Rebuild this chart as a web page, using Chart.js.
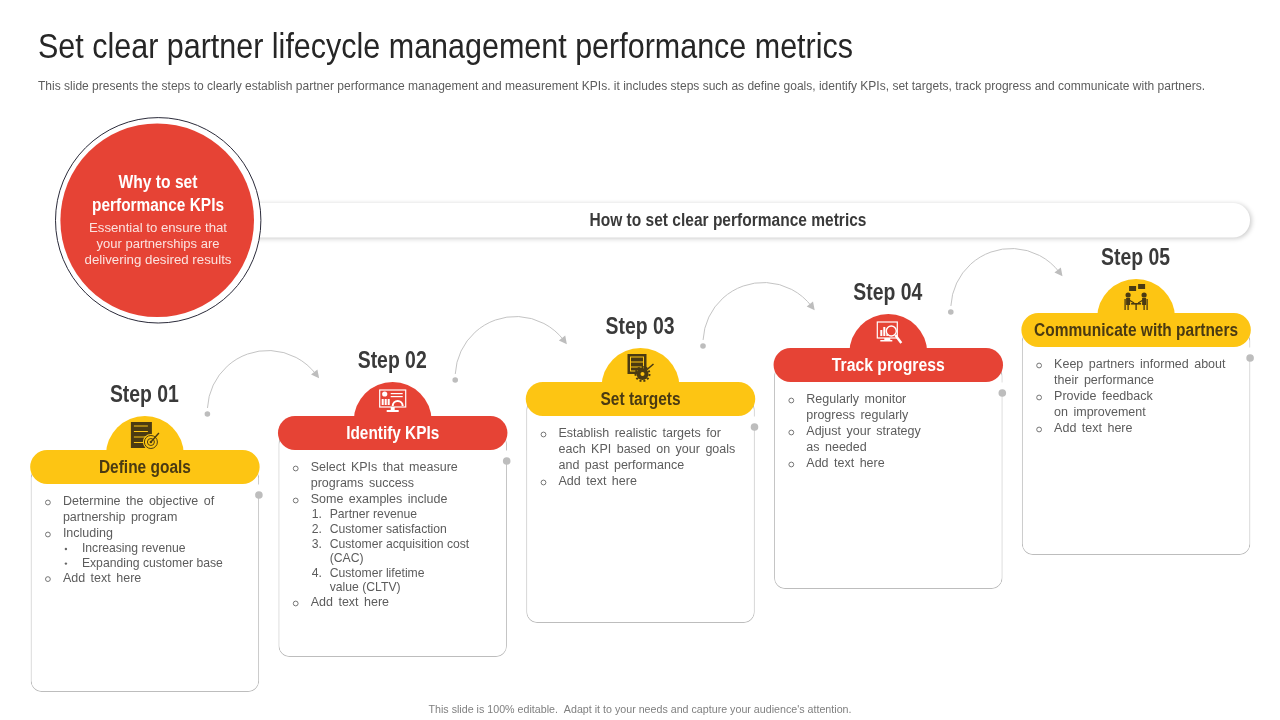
<!DOCTYPE html>
<html>
<head>
<title>Set clear partner lifecycle management performance metrics</title>
<script src="https://cdn.jsdelivr.net/npm/chart.js@4"></script>
<style>
  body { margin: 0; background: #fff; }
  canvas { display: block; }
</style>
</head>
<body>
<canvas id="myChart" width="1280" height="720"></canvas>

<script>
const steps = ['Step 01', 'Step 02', 'Step 03', 'Step 04', 'Step 05'];
const stepNames = ['Define goals', 'Identify KPIs', 'Set targets', 'Track progress', 'Communicate with partners'];
const pillTop = [450, 416, 382, 348, 313];
const pillBottom = [484, 450, 416, 382, 347];
const cardBottom = [692, 657, 623, 589, 555];

// o = round bullet, c = continuation, d = dot bullet, s = sub continuation, 1. etc = numbered
const card1 = [
  ['o', 'Determine the objective of'], ['c', 'partnership program'], ['o', 'Including'],
  ['d', 'Increasing revenue'], ['d', 'Expanding customer base'], ['o', 'Add text here']
];
const card2 = [
  ['o', 'Select KPIs that measure'], ['c', 'programs success'], ['o', 'Some examples include'],
  ['1.', 'Partner revenue'], ['2.', 'Customer satisfaction'], ['3.', 'Customer acquisition cost'],
  ['s', '(CAC)'], ['4.', 'Customer lifetime'], ['s', 'value (CLTV)'], ['o', 'Add text here']
];
const card3 = [
  ['o', 'Establish realistic targets for'], ['c', 'each KPI based on your goals'],
  ['c', 'and past performance'], ['o', 'Add text here']
];
const card4 = [
  ['o', 'Regularly monitor'], ['c', 'progress regularly'], ['o', 'Adjust your strategy'],
  ['c', 'as needed'], ['o', 'Add text here']
];
const card5 = [
  ['o', 'Keep partners informed about'], ['c', 'their performance'], ['o', 'Provide feedback'],
  ['c', 'on improvement'], ['o', 'Add text here']
];
const cards = [card1, card2, card3, card4, card5];

const titleText = 'Set clear partner lifecycle management performance metrics';
const subtitleText = 'This slide presents the steps to clearly establish partner performance management and measurement KPIs. it includes steps such as define goals, identify KPIs, set targets, track progress and communicate with partners.';
const footerText = "This slide is 100% editable.  Adapt it to your needs and capture your audience's attention.";
const heroText = 'How to set clear performance metrics';
const whyHead = ['Why to set', 'performance KPIs'];
const whyBody = ['Essential to ensure that', 'your partnerships are', 'delivering desired results'];

const YELLOW = '#FDC513';
const RED = '#E64335';
const pillColors = [YELLOW, RED, YELLOW, RED, YELLOW];
const inkColors = ['#4A3A12', '#FFFFFF', '#4A3A12', '#FFFFFF', '#4A3A12'];
const GREY = '#BDBDBD';
const FONT = '"Liberation Sans", Arial, sans-serif';

// text helper, width squeezes the glyphs to the width
function put(ctx, text, x, y, font, color, align, width, wordGap) {
  ctx.font = font;
  ctx.fillStyle = color;
  ctx.textAlign = align || 'left';
  ctx.textBaseline = 'middle';
  ctx.wordSpacing = (wordGap || 0) + 'px';
  ctx.save();
  ctx.translate(x, y);
  if (width) {
    ctx.scale(width / ctx.measureText(text).width, 1);
  }
  ctx.fillText(text, 0, 0);
  ctx.restore();
  ctx.wordSpacing = '0px';
}

function goalsIcon(ctx, ink, bg) {
  ctx.fillStyle = ink;
  ctx.fillRect(-14, -13, 21, 26);
  ctx.strokeStyle = bg;
  ctx.lineWidth = 1;
  for (let i = 0; i < 4; i++) {
    ctx.beginPath(); ctx.moveTo(-11, -9 + i * 5.5); ctx.lineTo(3, -9 + i * 5.5); ctx.stroke();
  }
  ctx.fillStyle = bg;
  ctx.beginPath(); ctx.arc(6, 7, 8, 0, Math.PI * 2); ctx.fill();
  ctx.strokeStyle = ink;
  ctx.beginPath(); ctx.arc(6, 7, 6.5, 0, Math.PI * 2); ctx.stroke();
  ctx.beginPath(); ctx.arc(6, 7, 3.5, 0, Math.PI * 2); ctx.stroke();
  ctx.fillStyle = ink;
  ctx.beginPath(); ctx.arc(6, 7, 1.3, 0, Math.PI * 2); ctx.fill();
  ctx.lineWidth = 1.4;
  ctx.beginPath(); ctx.moveTo(6, 7); ctx.lineTo(14, -2); ctx.stroke();
}

function kpiIcon(ctx, ink, bg) {
  ctx.strokeStyle = ink;
  ctx.fillStyle = ink;
  ctx.lineWidth = 1.2;
  ctx.strokeRect(-13, -11, 26, 17);
  ctx.fillRect(-2, 6, 4, 3);
  ctx.fillRect(-6, 9, 12, 2);
  ctx.beginPath(); ctx.arc(-8, -7, 2.6, 0, Math.PI * 2); ctx.fill();
  ctx.fillRect(-11, -2, 2, 6); ctx.fillRect(-8, -2, 2, 6); ctx.fillRect(-5, -2, 2, 6);
  ctx.fillRect(-2, -8, 12, 1.2); ctx.fillRect(-2, -5, 12, 1.2);
  ctx.lineWidth = 2;
  ctx.beginPath(); ctx.arc(5, 5, 5, Math.PI, 0); ctx.stroke();
}

function targetIcon(ctx, ink, bg) {
  ctx.fillStyle = ink;
  ctx.fillRect(-13, -13, 19, 20);
  ctx.strokeStyle = bg;
  ctx.lineWidth = 1;
  ctx.strokeRect(-10, -10, 13, 14);
  ctx.beginPath(); ctx.moveTo(-10, -5); ctx.lineTo(3, -5); ctx.moveTo(-10, 0); ctx.lineTo(3, 0); ctx.stroke();
  ctx.fillStyle = ink;
  ctx.beginPath(); ctx.arc(2, 7, 6, 0, Math.PI * 2); ctx.fill();
  ctx.strokeStyle = ink;
  ctx.lineWidth = 2;
  ctx.setLineDash([2, 2]);
  ctx.beginPath(); ctx.arc(2, 7, 7, 0, Math.PI * 2); ctx.stroke();
  ctx.setLineDash([]);
  ctx.fillStyle = bg;
  ctx.beginPath(); ctx.arc(2, 7, 2, 0, Math.PI * 2); ctx.fill();
  ctx.lineWidth = 1.6;
  ctx.beginPath(); ctx.moveTo(6, 3); ctx.lineTo(13, -3); ctx.stroke();
}

function trackIcon(ctx, ink, bg) {
  ctx.strokeStyle = ink;
  ctx.fillStyle = ink;
  ctx.lineWidth = 1.2;
  ctx.strokeRect(-11, -11, 20, 16);
  ctx.fillRect(-4, 5, 6, 2);
  ctx.fillRect(-8, 7, 12, 1.5);
  ctx.fillRect(-8, -3, 2, 6); ctx.fillRect(-5, -6, 2, 9); ctx.fillRect(-2, -4, 2, 7);
  ctx.fillStyle = bg;
  ctx.beginPath(); ctx.arc(3, -2, 5.5, 0, Math.PI * 2); ctx.fill();
  ctx.lineWidth = 1.4;
  ctx.beginPath(); ctx.arc(3, -2, 5, 0, Math.PI * 2); ctx.stroke();
  ctx.lineWidth = 2.4;
  ctx.beginPath(); ctx.moveTo(7, 2); ctx.lineTo(13, 10); ctx.stroke();
}

function talkIcon(ctx, ink, bg) {
  ctx.fillStyle = ink;
  ctx.strokeStyle = ink;
  ctx.fillRect(-7, -12, 7, 5);
  ctx.fillRect(2, -14, 7, 5);
  [-1, 1].forEach(side => {
    ctx.beginPath(); ctx.arc(side * 8, -3, 2.6, 0, Math.PI * 2); ctx.fill();
    ctx.fillRect(side > 0 ? 6 : -10, 0, 4, 7);
    ctx.lineWidth = 1.3;
    ctx.beginPath();
    ctx.moveTo(side * 11, 1); ctx.lineTo(side * 11, 12);
    ctx.moveTo(side * 8, 7); ctx.lineTo(side * 8, 12);
    ctx.moveTo(side * 7, 2); ctx.lineTo(side * 2, 5);
    ctx.stroke();
  });
  ctx.fillRect(-5, 5, 10, 1.6);
  ctx.fillRect(-0.7, 5, 1.4, 7);
}
const stepIcons = [goalsIcon, kpiIcon, targetIcon, trackIcon, talkIcon];

const slidePlugin = {
  id: 'slide',
  beforeDatasetsDraw(chart) {
    const ctx = chart.ctx;
    ctx.save();
    ctx.fillStyle = '#fff';
    ctx.fillRect(0, 0, 1280, 720);

    put(ctx, titleText, 38, 48.5, '35px ' + FONT, '#262626', 'left', 815);
    put(ctx, subtitleText, 38, 86.5, '12px ' + FONT, '#5C5C5C', 'left', 1167);
    put(ctx, footerText, 640, 710.5, '10.5px ' + FONT, '#7F7F7F', 'center', 423);

    // banner behind the circle
    ctx.save();
    ctx.shadowColor = 'rgba(0,0,0,0.22)';
    ctx.shadowBlur = 5;
    ctx.shadowOffsetX = 1.5;
    ctx.shadowOffsetY = 1;
    ctx.fillStyle = '#fff';
    ctx.beginPath();
    ctx.roundRect(200, 203, 1050, 34.5, 17);
    ctx.fill();
    ctx.restore();
    put(ctx, heroText, 728, 221.5, 'bold 18px ' + FONT, '#3A3A3A', 'center', 277);

    // why circle
    ctx.strokeStyle = '#2B2B3A';
    ctx.lineWidth = 1;
    ctx.fillStyle = '#fff';
    ctx.beginPath(); ctx.arc(158.2, 220.3, 102.7, 0, Math.PI * 2); ctx.fill(); ctx.stroke();
    ctx.fillStyle = RED;
    ctx.beginPath(); ctx.arc(157.2, 220.3, 96.8, 0, Math.PI * 2); ctx.fill();
    put(ctx, whyHead[0], 158, 183.5, 'bold 18px ' + FONT, '#FFF', 'center', 79);
    put(ctx, whyHead[1], 158, 206.5, 'bold 18px ' + FONT, '#FFF', 'center', 132);
    const whyWidths = [138, 123, 147];
    whyBody.forEach((t, i) => put(ctx, t, 158, 229 + i * 16, '12.5px ' + FONT, '#FBE3E0', 'center', whyWidths[i]));
    ctx.restore();
  },
  afterDatasetsDraw(chart) {
    const ctx = chart.ctx;
    const xs = chart.scales.x;
    const ys = chart.scales.y;
    ctx.save();
    steps.forEach((step, i) => {
      const cx = xs.getPixelForValue(i);
      const top = ys.getPixelForValue(pillTop[i]);
      const bottom = ys.getPixelForValue(pillBottom[i]);
      const right = cx + 114;

      put(ctx, step, cx - 0.5, top - 55, 'bold 24px ' + FONT, '#3A3A3A', 'center', 69);
      const labelWidths = [92, 93, 80, 113, 204];
      put(ctx, stepNames[i], cx, (top + bottom) / 2 + 1.5, 'bold 18px ' + FONT, inkColors[i], 'center', labelWidths[i]);

      ctx.save();
      ctx.translate(cx, top - 15);
      stepIcons[i](ctx, inkColors[i], pillColors[i]);
      ctx.restore();

      // right edge of the card starts at a dot below the pill
      ctx.fillStyle = '#fff';
      ctx.fillRect(right - 3, bottom + 0.5, 6, 10);
      ctx.fillStyle = GREY;
      ctx.beginPath(); ctx.arc(right, bottom + 11, 3.8, 0, Math.PI * 2); ctx.fill();

      // card body
      let y = bottom + 18;
      cards[i].forEach((line, k) => {
        const [kind, text] = line;
        const sub = !(kind === 'o' || kind === 'c');
        const font = (sub ? '12.2px ' : '12.5px ') + FONT;
        if (k > 0) {
          const prevSub = !(cards[i][k - 1][0] === 'o' || cards[i][k - 1][0] === 'c');
          y += sub ? (prevSub ? 14.6 : 15) : (prevSub ? 15 : 16);
        }
        if (kind === 'o') {
          ctx.strokeStyle = '#666';
          ctx.lineWidth = 0.9;
          ctx.beginPath(); ctx.arc(cx - 97, y + 0.5, 2.4, 0, Math.PI * 2); ctx.stroke();
        } else if (kind === 'd') {
          ctx.fillStyle = '#666';
          ctx.beginPath(); ctx.arc(cx - 79, y, 1.2, 0, Math.PI * 2); ctx.fill();
        } else if (sub && kind !== 's') {
          put(ctx, kind, cx - 81, y, font, '#5C5C5C');
        }
        const tx = sub ? cx - 63 : cx - 82;
        put(ctx, text, tx, y, font, '#5C5C5C', 'left', 0, sub ? 0 : 2);
      });

      // connector to the next step
      if (i < steps.length - 1) {
        const ax = cx + 123;
        const ay = top - 39;
        const r = 60.5;
        const end = -0.65;
        ctx.strokeStyle = '#C4C4C4';
        ctx.lineWidth = 1;
        ctx.beginPath(); ctx.arc(ax, ay, r, Math.PI + 0.05, end); ctx.stroke();
        ctx.fillStyle = '#BDBDBD';
        ctx.beginPath(); ctx.arc(ax - r, ay + 3, 2.8, 0, Math.PI * 2); ctx.fill();
        const ex = ax + r * Math.cos(end);
        const ey = ay + r * Math.sin(end);
        ctx.save();
        ctx.translate(ex, ey);
        ctx.rotate(end + Math.PI / 2);
        ctx.beginPath(); ctx.moveTo(5, 0); ctx.lineTo(-3, -4); ctx.lineTo(-3, 4); ctx.closePath(); ctx.fill();
        ctx.restore();
      }
    });
    ctx.restore();
  }
};

const ctx = document.getElementById('myChart');
const myChart = new Chart(ctx, {
  type: 'bar',
  data: {
    labels: steps,
    datasets: [
      {
        label: 'Step name',
        order: 1,
        grouped: false,
        data: pillTop.map((t, i) => [t, pillBottom[i]]),
        backgroundColor: pillColors,
        borderRadius: 17,
        borderSkipped: false,
        barPercentage: 0.926,
        categoryPercentage: 1
      },
      {
        label: 'Card',
        order: 2,
        grouped: false,
        data: pillTop.map((t, i) => [t + 17, cardBottom[i]]),
        backgroundColor: '#FFFFFF',
        borderColor: GREY,
        borderWidth: 1,
        borderRadius: 11,
        borderSkipped: false,
        barPercentage: 0.922,
        categoryPercentage: 1
      },
      {
        label: 'Dome',
        type: 'line',
        order: 3,
        showLine: false,
        data: pillTop.map(t => t + 5),
        pointRadius: 39,
        pointHoverRadius: 39,
        pointBorderWidth: 0,
        pointBackgroundColor: pillColors
      }
    ]
  },
  options: {
    responsive: false,
    animation: false,
    layout: { autoPadding: false, padding: { left: 21, right: 20, top: 0, bottom: 0 } },
    plugins: { legend: { display: false }, tooltip: { enabled: false } },
    scales: {
      x: { display: false, offset: true },
      y: { display: false, reverse: true, min: 0, max: 720 }
    }
  },
  plugins: [slidePlugin]
});
</script>
</body>
</html>
